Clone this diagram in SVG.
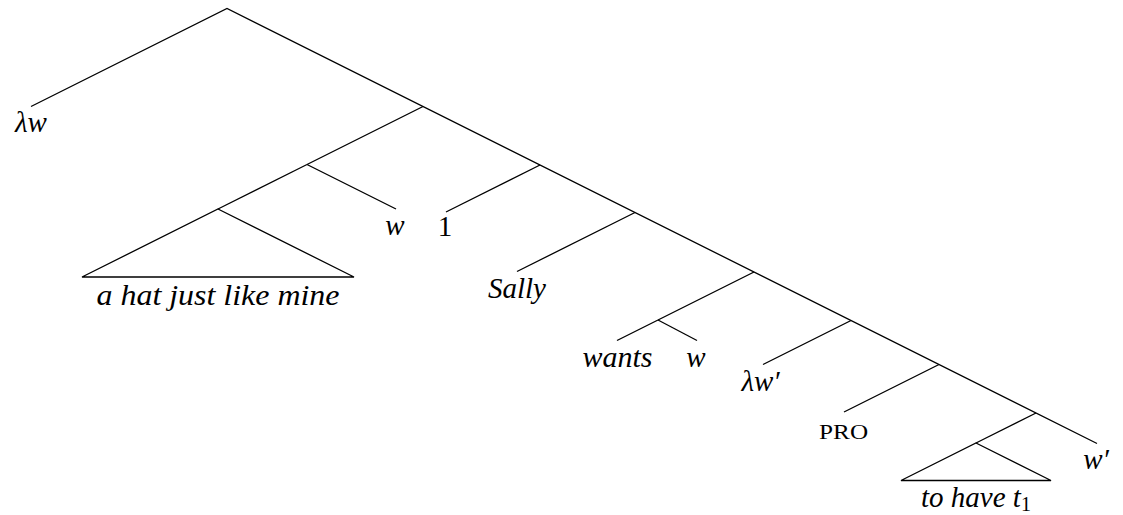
<svg xmlns="http://www.w3.org/2000/svg" width="1123" height="515" viewBox="0 0 1123 515">
<style>
.e{stroke:#000;stroke-width:1.3;fill:none;stroke-linecap:butt}
.t{font-family:"Liberation Serif","Times New Roman",serif;font-size:29px;fill:#000;text-anchor:middle}
.i{font-style:italic}
.sc{font-size:21px}
</style>
<rect width="1123" height="515" fill="#fff"/>
<g id="connectors">
<polyline class="e" points="31,106.5 227,8.5 1097,443.5"/>
<line class="e" x1="423" y1="106.5" x2="307" y2="164.5"/>
<line class="e" x1="307" y1="164.5" x2="396" y2="209"/>
<line class="e" x1="307" y1="164.5" x2="218" y2="209"/>
<line class="e" x1="540" y1="165" x2="446" y2="212"/>
<line class="e" x1="635" y1="212.5" x2="517" y2="271.5"/>
<line class="e" x1="754" y1="272" x2="658" y2="320"/>
<line class="e" x1="658" y1="320" x2="617" y2="340.5"/>
<line class="e" x1="658" y1="320" x2="697" y2="340.5"/>
<line class="e" x1="851" y1="320.5" x2="763" y2="364.5"/>
<line class="e" x1="939" y1="364.5" x2="844" y2="412"/>
<line class="e" x1="1036" y1="413" x2="976" y2="443"/>
</g>
<g id="n-hat"><polygon class="e" points="218,209 354,277 82,277"/><text class="t i" x="218" y="305" textLength="243" lengthAdjust="spacingAndGlyphs">a hat just like mine</text></g>
<g id="n-lw"><text class="t i" x="31" y="132">λw</text></g>
<g id="n-w1"><text class="t i" x="395" y="235">w</text></g>
<g id="n-1"><text class="t" x="445" y="236">1</text></g>
<g id="n-sally"><text class="t i" x="517" y="298">Sally</text></g>
<g id="n-wants"><text class="t i" x="617.5" y="366.5" textLength="70" lengthAdjust="spacingAndGlyphs">wants</text></g>
<g id="n-w2"><text class="t i" x="696" y="366.5">w</text></g>
<g id="n-lwp"><text class="t i" x="760.5" y="391">λw′</text></g>
<g id="n-pro"><text class="t sc" x="843.6" y="438.5" textLength="49" lengthAdjust="spacingAndGlyphs">PRO</text></g>
<g id="n-wp"><text class="t i" x="1096" y="469">w′</text></g>
<g id="n-tohave"><polygon class="e" points="976,443 1051,480.5 901,480.5"/><text class="t i" x="976" y="507">to have t<tspan font-style="normal" font-size="20" dy="4">1</tspan></text></g>
</svg>
